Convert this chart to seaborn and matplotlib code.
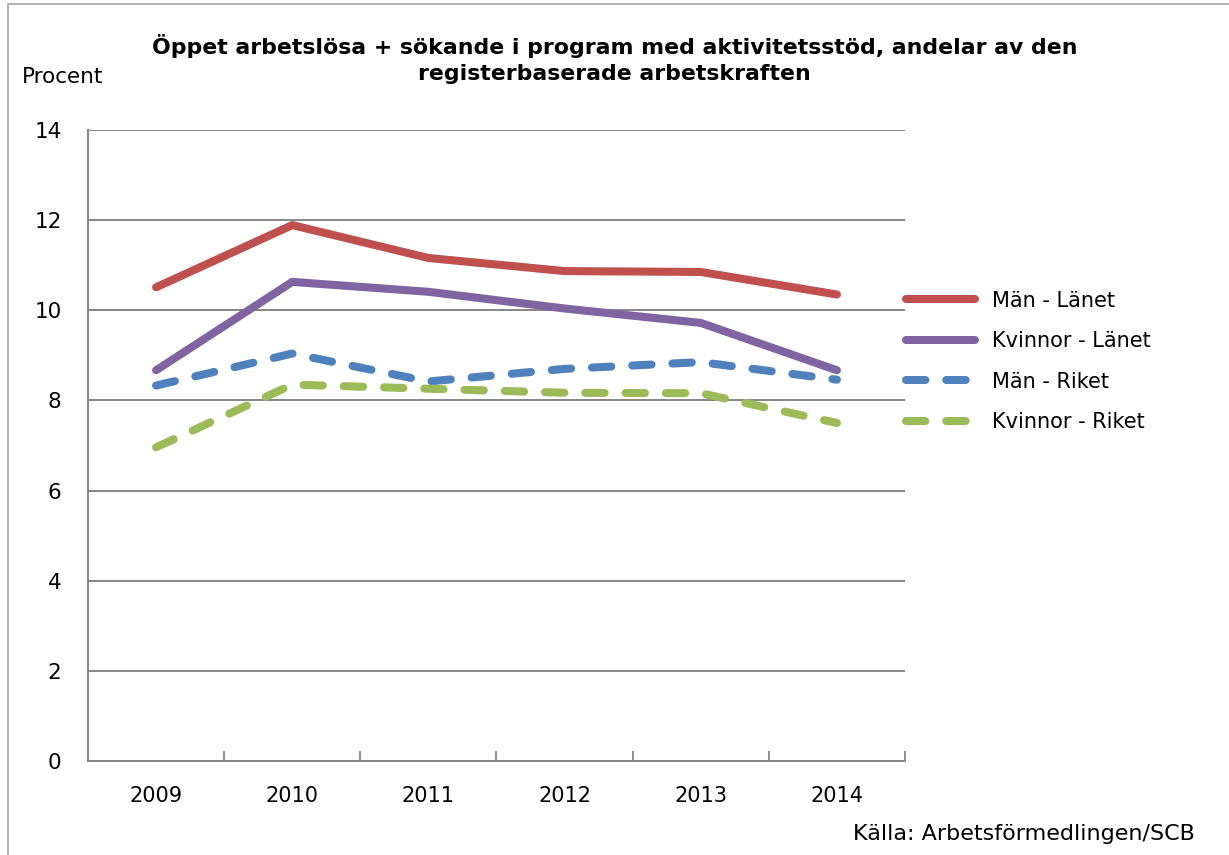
import numpy as np
import pandas as pd
import matplotlib
matplotlib.use('Agg')
import matplotlib.pyplot as plt
import seaborn as sns
from matplotlib.patches import Rectangle
from matplotlib.ticker import FixedLocator

# Data
years = ['2009', '2010', '2011', '2012', '2013', '2014']
man_lanet = [10.51, 11.89, 11.16, 10.87, 10.85, 10.35]
kvinnor_lanet = [8.67, 10.63, 10.41, 10.04, 9.72, 8.67]
man_riket = [8.33, 9.04, 8.42, 8.70, 8.85, 8.46]
kvinnor_riket = [6.96, 8.35, 8.26, 8.17, 8.16, 7.50]

series_names = ['Män - Länet', 'Kvinnor - Länet', 'Män - Riket', 'Kvinnor - Riket']
series_values = [man_lanet, kvinnor_lanet, man_riket, kvinnor_riket]
colors = ['#C0504D', '#8064A2', '#4F81BD', '#9BBB59']
dashes = ['', '', (2.4, 2.6), (2.4, 2.6)]

df = pd.concat([
    pd.DataFrame({'year': np.arange(len(years)), 'value': vals, 'serie': name})
    for name, vals in zip(series_names, series_values)
])

sns.set_theme(style='white')
plt.rcParams['font.family'] = ['DejaVu Sans']
plt.rcParams['text.color'] = 'black'
plt.rcParams['xtick.color'] = 'black'
plt.rcParams['ytick.color'] = 'black'

fig = plt.figure(figsize=(12.29, 8.55), dpi=100)
ax = fig.add_axes([88 / 1229, 1 - 761 / 855, (905 - 88) / 1229, (761 - 130) / 855])

sns.lineplot(data=df, x='year', y='value', hue='serie', style='serie',
             hue_order=series_names, style_order=series_names,
             palette=dict(zip(series_names, colors)),
             dashes=dict(zip(series_names, dashes)),
             linewidth=5.8, ax=ax, legend=False)

for line in ax.lines:
    line.set_solid_capstyle('round')
    line.set_dash_capstyle('round')
    line.set_solid_joinstyle('miter')

ax.set_xlim(-0.5, len(years) - 0.5)
ax.set_ylim(0, 14)
ax.set_yticks(range(0, 15, 2))
ax.set_xticks(range(len(years)))
ax.set_xticklabels(years)
ax.xaxis.set_minor_locator(FixedLocator(np.arange(0.5, len(years), 1.0)))
ax.tick_params(axis='x', which='major', length=0, labelsize=15, pad=18)
ax.tick_params(axis='x', which='minor', length=7, width=1.3, direction='in',
               color='#868686', bottom=True)
ax.tick_params(axis='y', length=0, labelsize=15.5, pad=19)
ax.set_xlabel('')
ax.set_ylabel('')
ax.grid(axis='y', color='#868686', linewidth=1.4)
ax.grid(axis='x', visible=False)
ax.set_axisbelow(True)
for side in ['top', 'right']:
    ax.spines[side].set_visible(False)
for side in ['left', 'bottom']:
    ax.spines[side].set_color('#868686')
    ax.spines[side].set_linewidth(1.4)

# legend at the right of the plot
handles = ax.lines[:len(series_names)]
leg = fig.legend(handles, series_names, loc='upper left',
                 bbox_to_anchor=(887 / 1229, 1 - 272 / 855), frameon=False,
                 fontsize=15, handlelength=3.3, handletextpad=0.85,
                 labelspacing=0.98)
for lh in leg.get_lines():
    lh.set_linewidth(5.8)

fig.text(0.5, 1 - 59 / 855,
         'Öppet arbetslösa + sökande i program med aktivitetsstöd, andelar av den\n'
         'registerbaserade arbetskraften',
         ha='center', va='center', fontsize=15.8, fontweight='bold', linespacing=1.4)
fig.text(22 / 1229, 1 - 77 / 855, 'Procent', ha='left', va='center', fontsize=15.5)
fig.text(1195 / 1229, 1 - 834 / 855, 'Källa: Arbetsförmedlingen/SCB',
         ha='right', va='center', fontsize=16)

fig.patches.append(Rectangle((8 / 1229, -0.02), 1.0, 1 - 4 / 855 + 0.02,
                             transform=fig.transFigure, fill=False,
                             edgecolor='#A6A6A6', linewidth=1.2))

fig.savefig('out.png', dpi=100)
